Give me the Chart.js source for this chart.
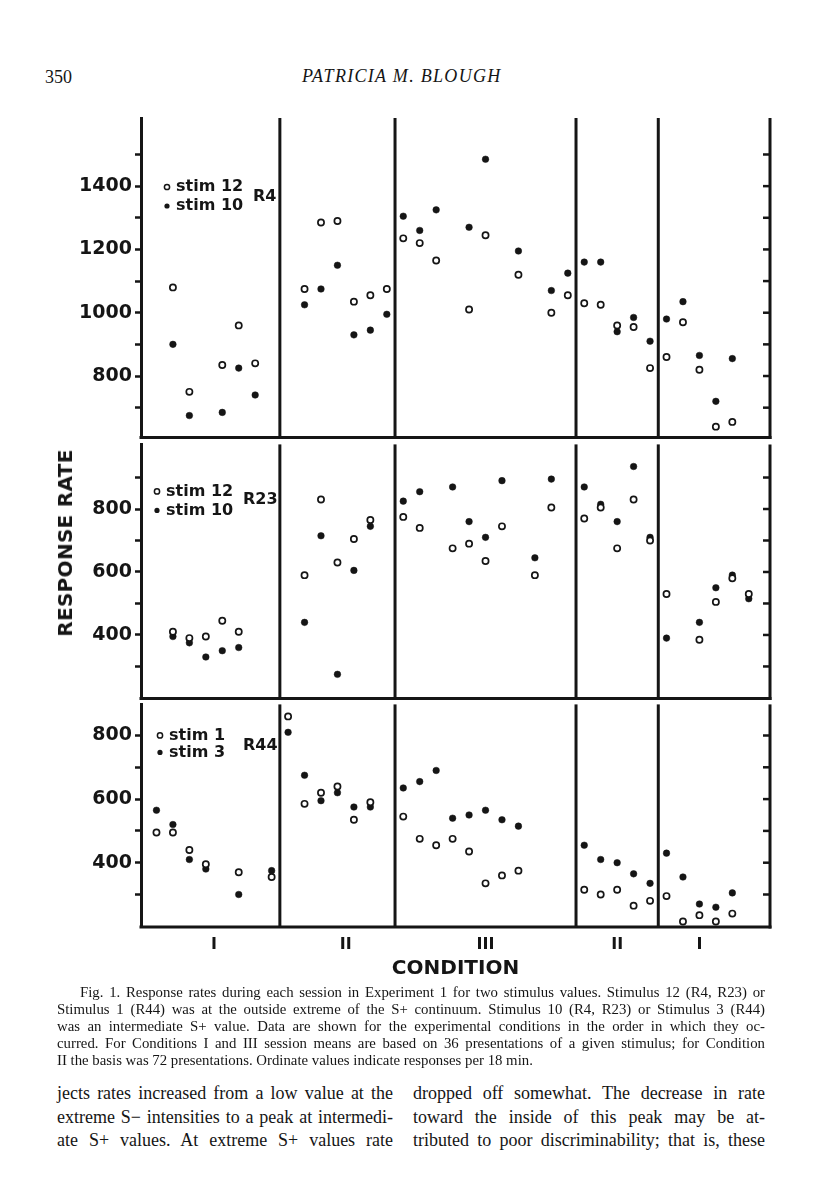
<!DOCTYPE html>
<html>
<head>
<meta charset="utf-8">
<script src="https://cdn.jsdelivr.net/npm/chart.js@4.4.0/dist/chart.umd.min.js"></script>
<style>
  body { margin: 0; width: 816px; height: 1200px; position: relative; overflow: hidden; background: #fff; color: #151515; }
  canvas.panel { position: absolute; left: 0; }
  .serif { font-family: "Liberation Serif", "DejaVu Serif", serif; position: absolute; }
  .just div { text-align: justify; text-align-last: justify; }
  .just div.last { text-align-last: left; }
  #ylab { position: absolute; left: 65px; top: 543px; transform: translate(-50%, -50%) rotate(-90deg);
          font: bold 20px "DejaVu Sans", sans-serif; white-space: nowrap; letter-spacing: 0.3px; }
</style>
</head>
<body>

<div class="serif" style="left:45px; top:67px; font-size:18px; line-height:20px;">350</div>
<div class="serif" style="left:302px; top:66px; font-size:18px; line-height:20px; font-style:italic; letter-spacing:1.3px;">PATRICIA M. BLOUGH</div>

<canvas class="panel" id="r4" width="816" height="352" style="top:100px"></canvas>
<canvas class="panel" id="r23" width="816" height="283" style="top:430px"></canvas>
<canvas class="panel" id="r44" width="816" height="297" style="top:690px"></canvas>

<div id="ylab">RESPONSE RATE</div>

<div class="serif just" style="left:57px; top:984px; width:708px; font-size:14.8px; line-height:17px;">
  <div style="padding-left:23px">Fig. 1. Response rates during each session in Experiment 1 for two stimulus values. Stimulus 12 (R4, R23) or</div>
  <div>Stimulus 1 (R44) was at the outside extreme of the S+ continuum. Stimulus 10 (R4, R23) or Stimulus 3 (R44)</div>
  <div>was an intermediate S+ value. Data are shown for the experimental conditions in the order in which they oc-</div>
  <div>curred. For Conditions I and III session means are based on 36 presentations of a given stimulus; for Condition</div>
  <div class="last">II the basis was 72 presentations. Ordinate values indicate responses per 18 min.</div>
</div>

<div class="serif just" style="left:57px; top:1082px; width:336px; font-size:18px; line-height:23.5px;">
  <div>jects rates increased from a low value at the</div>
  <div>extreme S− intensities to a peak at intermedi-</div>
  <div>ate S+ values. At extreme S+ values rate</div>
</div>
<div class="serif just" style="left:413px; top:1082px; width:352px; font-size:18px; line-height:23.5px;">
  <div>dropped off somewhat. The decrease in rate</div>
  <div>toward the inside of this peak may be at-</div>
  <div>tributed to poor discriminability; that is, these</div>
</div>

<script>
// conditions in the order they were run (first and last session slot of each)
const conditionLabels = ['I', 'II', 'III', 'II', 'I'];
const conditionFirst = [1, 9, 15, 26, 31];
const conditionLast = [6, 14, 25, 30, 35];

// R4: stim 12 (open) and stim 10 (filled)
const r4Sessions = [1, 2, 4, 5, 6, 9, 10, 11, 12, 13, 14, 15, 16, 17, 19, 20, 22, 24, 25, 26, 27, 28, 29, 30, 31, 32, 33, 34, 35];
const r4Stim12 = [1080, 750, 835, 960, 840, 1075, 1285, 1290, 1035, 1055, 1075, 1235, 1220, 1165, 1010, 1245, 1120, 1000, 1055, 1030, 1025, 960, 955, 825, 860, 970, 820, 640, 655];
const r4Stim10 = [900, 675, 685, 825, 740, 1025, 1075, 1150, 930, 945, 995, 1305, 1260, 1325, 1270, 1485, 1195, 1070, 1125, 1160, 1160, 940, 985, 910, 980, 1035, 865, 720, 855];

// R23: stim 12 (open) and stim 10 (filled)
const r23Sessions = [1, 2, 3, 4, 5, 9, 10, 11, 12, 13, 15, 16, 18, 19, 20, 21, 23, 24, 26, 27, 28, 29, 30, 31, 33, 34, 35, 36];
const r23Stim12 = [410, 390, 395, 445, 410, 590, 830, 630, 705, 765, 775, 740, 675, 690, 635, 745, 590, 805, 770, 805, 675, 830, 700, 530, 385, 505, 580, 530];
const r23Stim10 = [395, 375, 330, 350, 360, 440, 715, 275, 605, 745, 825, 855, 870, 760, 710, 890, 645, 895, 870, 815, 760, 935, 710, 390, 440, 550, 590, 515];

// R44: stim 1 (open) and stim 3 (filled)
const r44Sessions = [0, 1, 2, 3, 5, 7, 8, 9, 10, 11, 12, 13, 15, 16, 17, 18, 19, 20, 21, 22, 26, 27, 28, 29, 30, 31, 32, 33, 34, 35];
const r44Stim1 = [495, 495, 440, 395, 370, 355, 860, 585, 620, 640, 535, 590, 545, 475, 455, 475, 435, 335, 360, 375, 315, 300, 315, 265, 280, 295, 215, 235, 215, 240];
const r44Stim3 = [565, 520, 410, 380, 300, 375, 810, 675, 595, 620, 575, 575, 635, 655, 690, 540, 550, 565, 535, 515, 455, 410, 400, 365, 335, 430, 355, 270, 260, 305];

// y ticks (every 100) and the labelled ones
const r4Ticks = [700, 800, 900, 1000, 1100, 1200, 1300, 1400, 1500];
const r4TickLabels = [800, 1000, 1200, 1400];
const r23Ticks = [300, 400, 500, 600, 700, 800, 900];
const r23TickLabels = [400, 600, 800];
const r44Ticks = [300, 400, 500, 600, 700, 800];
const r44TickLabels = [400, 600, 800];

const r4Legend = ['stim 12', 'stim 10'];
const r23Legend = ['stim 12', 'stim 10'];
const r44Legend = ['stim 1', 'stim 3'];

const INK = '#151515';
const SANS = '"DejaVu Sans", sans-serif';

const conditionCenters = conditionFirst.map((f, i) => (f + conditionLast[i]) / 2);
const conditionBreaks = conditionLast.slice(0, -1).map((l, i) => (l + conditionFirst[i + 1]) / 2);

const X_MIN = -0.94, X_MAX = 37.29;

// frame lines, condition dividers, inner ticks on the right axis and the panel key
const framePlugin = {
    id: 'frame',
    afterDraw(chart, args, o) {
        const { ctx, chartArea: a, scales: { x, y } } = chart;
        const seg = (x1, y1, x2, y2, w) => {
            ctx.lineWidth = w;
            ctx.beginPath();
            ctx.moveTo(x1, y1);
            ctx.lineTo(x2, y2);
            ctx.stroke();
        };
        ctx.save();
        ctx.strokeStyle = INK;
        ctx.fillStyle = INK;
        seg(a.right, a.top, a.right, a.bottom + 1.5, 3);
        seg(a.left - 1.5, a.bottom, a.right + 1.5, a.bottom, 3);
        conditionBreaks.forEach(b => {
            const px = x.getPixelForValue(b);
            seg(px, a.top, px, a.bottom, 3);
        });
        y.ticks.forEach(t => {
            const py = y.getPixelForValue(t.value);
            seg(a.right - 7, py, a.right, py, 2.5);
        });

        ctx.font = 'bold 16px ' + SANS;
        ctx.textBaseline = 'middle';
        ctx.textAlign = 'left';
        o.items.forEach((label, i) => {
            const mx = a.left + o.keyX;
            const my = a.top + o.keyY + i * o.keyGap;
            ctx.beginPath();
            ctx.arc(mx, my, 2.6, 0, Math.PI * 2);
            if (i === 1) {
                ctx.fill();
            } else {
                ctx.lineWidth = 1.5;
                ctx.stroke();
            }
            ctx.fillText(label, mx + 9, my);
        });
        ctx.fillText(o.name, a.left + o.nameX, a.top + o.nameY);
        ctx.restore();
    }
};

function panel(id, sessions, openVals, filledVals, yMin, yMax, ticks, tickLabels, frame, pad, isBottom) {
    const xScale = isBottom ? {
        type: 'linear', min: X_MIN, max: X_MAX,
        afterFit(s) { s.height = 60; },
        afterBuildTicks(s) { s.ticks = conditionCenters.map(v => ({ value: v })); },
        ticks: {
            callback: (v, i) => conditionLabels[i],
            font: { family: SANS, weight: 'bold', size: 16 },
            color: INK, padding: 0, autoSkip: false, maxRotation: 0
        },
        grid: { display: false },
        border: { display: false },
        title: {
            display: true, text: 'CONDITION', color: INK,
            font: { family: SANS, weight: 'bold', size: 20 },
            padding: { top: 0, bottom: 6 }
        }
    } : { type: 'linear', min: X_MIN, max: X_MAX, display: false };

    return new Chart(document.getElementById(id), {
        type: 'scatter',
        data: {
            datasets: [{
                label: frame.items[0],
                data: sessions.map((s, i) => ({ x: s, y: openVals[i] })),
                pointRadius: 3.1,
                pointBorderWidth: 1.7,
                pointBackgroundColor: '#fff',
                pointBorderColor: INK,
                clip: false
            }, {
                label: frame.items[1],
                data: sessions.map((s, i) => ({ x: s, y: filledVals[i] })),
                pointRadius: 3.3,
                pointBorderWidth: 0.5,
                pointBackgroundColor: INK,
                pointBorderColor: INK,
                clip: false
            }]
        },
        options: {
            responsive: false,
            animation: false,
            events: [],
            layout: { padding: { left: 0, right: 46, top: pad[0], bottom: pad[1] } },
            plugins: { legend: { display: false }, tooltip: { enabled: false }, frame: frame },
            scales: {
                x: xScale,
                y: {
                    type: 'linear', min: yMin, max: yMax,
                    afterFit(s) { s.width = 141; },
                    afterBuildTicks(s) { s.ticks = ticks.map(v => ({ value: v })); },
                    ticks: {
                        callback: v => tickLabels.includes(v) ? String(v) : '',
                        font: { family: SANS, weight: 'bold', size: 19 },
                        color: INK, padding: 3, autoSkip: false
                    },
                    grid: { display: true, drawOnChartArea: false, drawTicks: true, tickLength: 6, tickWidth: 2.5, tickColor: INK },
                    border: { display: true, width: 3, color: INK }
                }
            }
        },
        plugins: [framePlugin]
    });
}

panel('r4', r4Sessions, r4Stim12, r4Stim10, 605.4, 1615.3, r4Ticks, r4TickLabels,
    { items: r4Legend, name: 'R4', keyX: 26, keyY: 69, keyGap: 19, nameX: 112, nameY: 79 }, [18, 10], false);
panel('r23', r23Sessions, r23Stim12, r23Stim10, 197.9, 1005.2, r23Ticks, r23TickLabels,
    { items: r23Legend, name: 'R23', keyX: 16, keyY: 47, keyGap: 19, nameX: 102, nameY: 55 }, [12, 10], false);
panel('r44', r44Sessions, r44Stim1, r44Stim3, 197.8, 897.8, r44Ticks, r44TickLabels,
    { items: r44Legend, name: 'R44', keyX: 19, keyY: 31, keyGap: 17, nameX: 102, nameY: 41 }, [13, 0], true);
</script>
</body>
</html>
